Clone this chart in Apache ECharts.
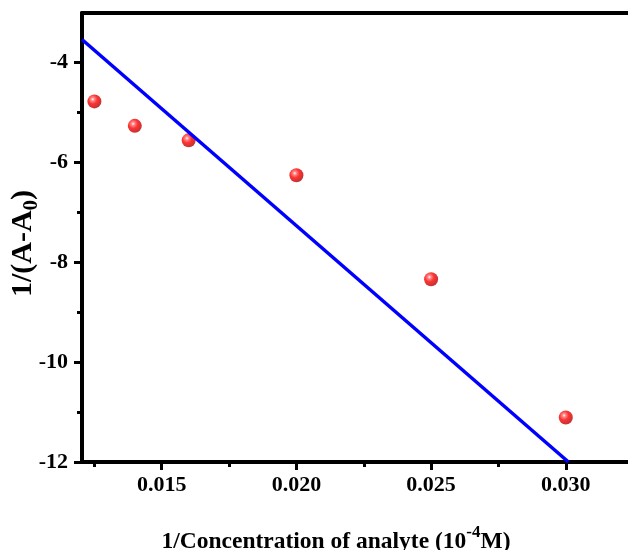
<!doctype html>
<html>
	<head>
		<meta charset="UTF-8">
		<title></title>
		<script src="https://cdn.jsdelivr.net/npm/echarts@6/dist/echarts.min.js"></script>
		<style>
			html, body { margin: 0; padding: 0; background: #fff; }
			#main { width: 628px; height: 550px; }
		</style>
	</head>
	<body>
		<div id="main"></div>
		<script>
			// 测量点
			var concX = [0.0125, 0.014, 0.016, 0.020, 0.025, 0.030];
			var invAY = [-4.78, -5.27, -5.56, -6.26, -8.34, -11.11];
			// 拟合直线两端
			var fitX = [0.01204, 0.0301];
			var fitY = [-3.54, -12];
			// 刻度
			var xMajor = [0.015, 0.020, 0.025, 0.030];
			var xMinor = [0.0125, 0.0175, 0.0225, 0.0275];
			var yMajor = [-12, -10, -8, -6, -4];
			var yMinor = [-11, -9, -7, -5];

			var xMin = 0.01204, xMax = 0.03231;
			var yMin = -12, yMax = -3.01;

			var font = '"Liberation Serif", "Times New Roman", serif';

			var points = [];
			for (var i = 0; i < concX.length; i++) points.push([concX[i], invAY[i]]);
			var fitLine = [];
			for (var j = 0; j < fitX.length; j++) fitLine.push([fitX[j], fitY[j]]);

			var sphere = {
				type: 'radial', x: 0.38, y: 0.35, r: 0.65,
				colorStops: [
					{ offset: 0, color: '#ffffff' },
					{ offset: 0.18, color: '#ff7070' },
					{ offset: 0.5, color: '#ff0000' },
					{ offset: 1, color: '#b50000' }
				]
			};

			var myChart = echarts.init(document.getElementById('main'));
			var option = {
				backgroundColor: '#fff',
				animation: false,
				grid: { left: 82, right: 0, top: 13, bottom: 88, outerBoundsMode: 'none', containLabel: false },
				xAxis: [{
					type: 'value', min: xMin, max: xMax, position: 'bottom',
					name: '{a|1/Concentration of analyte (10}{sup|-4}{a|M)}',
					nameLocation: 'middle', nameGap: 62,
					nameTextStyle: {
						padding: [0, 38, 0, 0],
						rich: {
							a: { fontFamily: font, fontWeight: 'bold', fontSize: 23.5, color: '#000', lineHeight: 30, verticalAlign: 'bottom' },
							sup: { fontFamily: font, fontWeight: 'bold', fontSize: 17, color: '#000', lineHeight: 17, verticalAlign: 'top' }
						}
					},
					splitLine: { show: false },
					axisLine: { onZero: false, lineStyle: { color: '#000', width: 4 } },
					axisTick: { customValues: xMajor, length: 8, lineStyle: { color: '#000', width: 3 } },
					axisLabel: {
						customValues: xMajor, margin: 12,
						fontFamily: font, fontWeight: 'bold', fontSize: 22, color: '#000',
						formatter: function (v) { return v.toFixed(3); }
					}
				}, {
					type: 'value', min: xMin, max: xMax, position: 'bottom',
					splitLine: { show: false },
					axisLine: { show: false },
					axisTick: { customValues: xMinor, length: 5, lineStyle: { color: '#000', width: 3 } },
					axisLabel: { show: false }
				}, {
					type: 'value', min: xMin, max: xMax, position: 'top',
					splitLine: { show: false },
					axisLine: { onZero: false, lineStyle: { color: '#000', width: 4 } },
					axisTick: { show: false },
					axisLabel: { show: false }
				}],
				yAxis: [{
					type: 'value', min: yMin, max: yMax, position: 'left',
					name: '{a|1/(A-A}{sub|0}{a|)}',
					nameLocation: 'middle', nameGap: 40, nameMoveOverlap: false,
					nameTextStyle: {
						padding: [0, 12, 0, 0],
						rich: {
							a: { fontFamily: font, fontWeight: 'bold', fontSize: 30, color: '#000', lineHeight: 34, verticalAlign: 'top' },
							sub: { fontFamily: font, fontWeight: 'bold', fontSize: 21, color: '#000', lineHeight: 21, verticalAlign: 'bottom' }
						}
					},
					splitLine: { show: false },
					axisLine: { onZero: false, lineStyle: { color: '#000', width: 4 } },
					axisTick: { customValues: yMajor, length: 8, lineStyle: { color: '#000', width: 3 } },
					axisLabel: {
						customValues: yMajor, margin: 14,
						fontFamily: font, fontWeight: 'bold', fontSize: 22, color: '#000'
					}
				}, {
					type: 'value', min: yMin, max: yMax, position: 'left',
					splitLine: { show: false },
					axisLine: { show: false },
					axisTick: { customValues: yMinor, length: 5, lineStyle: { color: '#000', width: 3 } },
					axisLabel: { show: false }
				}],
				series: [{
					type: 'line',
					xAxisIndex: 0, yAxisIndex: 0,
					data: fitLine,
					showSymbol: false,
					clip: true,
					lineStyle: { color: '#0000ff', width: 3.5 }
				}, {
					type: 'scatter',
					xAxisIndex: 0, yAxisIndex: 0,
					data: points,
					symbolSize: 14,
					itemStyle: { color: sphere }
				}]
			};
			myChart.setOption(option);
		</script>
	</body>
</html>
